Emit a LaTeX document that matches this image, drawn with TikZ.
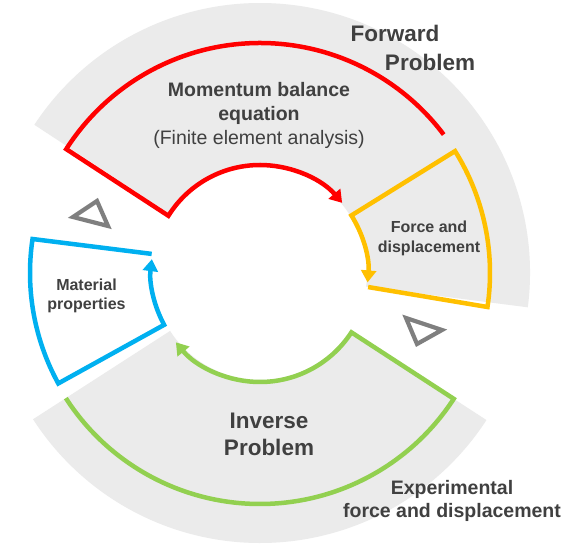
\documentclass[tikz,border=0pt]{standalone}
\usepackage{fontspec}
\setmainfont{Liberation Sans}
\usetikzlibrary{arrows.meta}
\definecolor{bandgray}{HTML}{EBEBEB}
\definecolor{cuegray}{HTML}{7F7F7F}
\definecolor{txtgray}{HTML}{404040}
\definecolor{fwdred}{HTML}{FF0000}
\definecolor{fdyellow}{HTML}{FFC000}
\definecolor{matblue}{HTML}{00B0F0}
\definecolor{invgreen}{HTML}{92D050}
\begin{document}
\begin{tikzpicture}[x=1pt,y=1pt,
  band/.style={fill=bandgray},
  boxline/.style={line width=4.5pt, line join=miter},
  tipped/.style={-{Triangle[length=12pt,width=15pt]}},
  cue/.style={draw=cuegray, line width=4.2pt, line join=miter},
  lbl/.style={text=txtgray, align=center, inner sep=0pt}]
\useasboundingbox (0,0) rectangle (577,549);
\fill[white] (0,0) rectangle (577,549);
\begin{scope}[shift={(260,276)}]
  % grey bands
  \fill[band] (146.7:107pt) arc[start angle=146.7,end angle=-7.3,radius=107pt]
     -- (-7.3:270pt) arc[start angle=-7.3,end angle=146.7,radius=270pt] -- cycle;
  \fill[band] (212.8:107pt) arc[start angle=212.8,end angle=327,radius=107pt]
     -- (327:270pt) arc[start angle=327,end angle=212.8,radius=270pt] -- cycle;
  % red box
  \draw[boxline, draw=fwdred, tipped] (37:230pt) arc[start angle=37,end angle=147.4,radius=230pt]
     -- (148:108pt) arc[start angle=148,end angle=40.5,radius=108pt];
  % yellow box
  \draw[boxline, draw=fdyellow, tipped] (-7.4:109pt) -- (-8.5:230pt)
     arc[start angle=-8.5,end angle=32,radius=230pt]
     -- (32.2:108pt) arc[start angle=32.2,end angle=-5,radius=108pt];
  % green box
  \draw[boxline, draw=invgreen, tipped] (212.8:231pt) arc[start angle=212.8,end angle=327,radius=231pt]
     -- (327:109pt) arc[start angle=327,end angle=219.5,radius=109pt];
  % blue box
  \draw[boxline, draw=matblue, tipped] (170:110pt) -- (171.5:230pt)
     arc[start angle=171.5,end angle=208.7,radius=230pt]
     -- (208.4:109pt) arc[start angle=208.4,end angle=172.7,radius=109pt];
\end{scope}
% grey cue triangles
\draw[cue] (73,332) -- (97,348) -- (108,323) -- cycle;
\draw[cue] (406,231) -- (442,219) -- (417,205) -- cycle;
% labels
\node[lbl, font=\fontsize{22.5}{28}\selectfont\bfseries] (fwd1) at (395,516) {Forward};
\node[lbl, font=\fontsize{22.5}{28}\selectfont\bfseries] (fwd2) at (430,487) {Problem};
\node[lbl, font=\fontsize{19.5}{24}\selectfont] (mom) at (259,434)
  {\textbf{Momentum balance}\\\textbf{equation}\\(Finite element analysis)};
\node[lbl, font=\fontsize{16}{20}\selectfont\bfseries] (fd) at (429,311) {Force and\\displacement};
\node[lbl, font=\fontsize{16}{19.5}\selectfont\bfseries] (mat) at (86.5,253) {Material\\properties};
\node[lbl, font=\fontsize{22.5}{27.5}\selectfont\bfseries] (inv) at (269,114.5) {Inverse\\Problem};
\node[lbl, font=\fontsize{19.5}{23}\selectfont\bfseries] (exp) at (452,48) {Experimental\\force and displacement};
\end{tikzpicture}
\end{document}
